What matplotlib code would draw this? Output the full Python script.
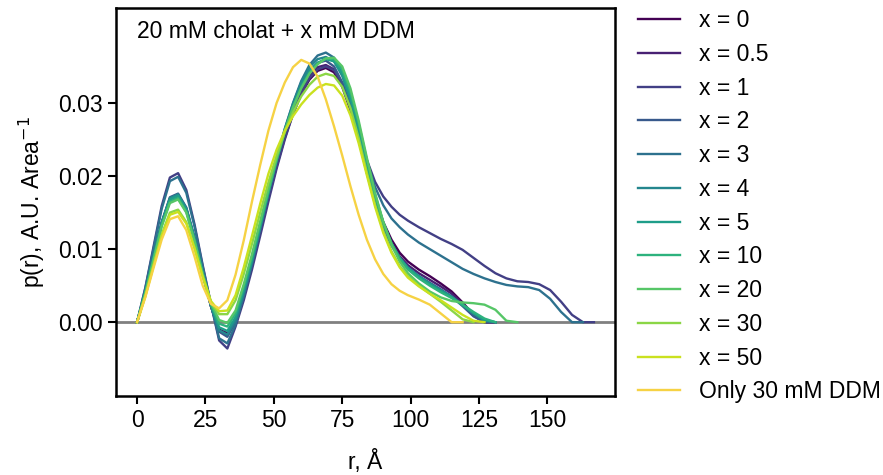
import matplotlib
matplotlib.use("Agg")
import matplotlib.pyplot as plt
import numpy as np

plt.rcParams['font.family'] = ['Liberation Sans', 'DejaVu Sans']

r = [0, 3, 6, 9, 12, 15, 18, 21, 24, 27, 30, 33, 36, 39, 42, 45, 48, 51, 54, 57,
     60, 63, 66, 69, 72, 75, 78, 81, 84, 87, 90, 93, 96, 99, 103, 107, 111, 115,
     119, 123, 127, 131, 135, 139, 143, 147, 151, 155, 159, 163, 167]

labels = ["x = 0", "x = 0.5", "x = 1", "x = 2", "x = 3", "x = 4", "x = 5",
          "x = 10", "x = 20", "x = 30", "x = 50", "Only 30 mM DDM"]

p_x0 = [0, 0.0040, 0.0088, 0.0135, 0.0168, 0.0173, 0.0154, 0.0114, 0.0066, 0.0022,
        -0.0010, -0.0015, 0.0004, 0.0040, 0.0080, 0.0125, 0.0170, 0.0213, 0.0252, 0.0285,
        0.0312, 0.0332, 0.0344, 0.0348, 0.0342, 0.0322, 0.0290, 0.0250, 0.0207, 0.0168,
        0.0137, 0.0113, 0.0095, 0.0083, 0.0072, 0.0063, 0.0053, 0.0042, 0.0027, 0.0010,
        0.0, 0.0]
p_x05 = [0, 0.0040, 0.0088, 0.0136, 0.0169, 0.0174, 0.0155, 0.0114, 0.0067, 0.0022,
         -0.0012, -0.0018, 0.0002, 0.0038, 0.0079, 0.0125, 0.0171, 0.0215, 0.0255, 0.0289,
         0.0317, 0.0337, 0.0349, 0.0352, 0.0346, 0.0326, 0.0293, 0.0252, 0.0207, 0.0166,
         0.0133, 0.0108, 0.0090, 0.0078, 0.0067, 0.0058, 0.0049, 0.0039, 0.0025, 0.0009,
         0.0, 0.0]
p_x1 = [0, 0.0047, 0.0103, 0.0159, 0.0198, 0.0204, 0.0181, 0.0134, 0.0078, 0.0025,
        -0.0025, -0.0036, -0.0006, 0.0030, 0.0072, 0.0118, 0.0165, 0.0210, 0.0250, 0.0285,
        0.0313, 0.0334, 0.0346, 0.0350, 0.0345, 0.0327, 0.0297, 0.0260, 0.0222, 0.0192,
        0.0172, 0.0158, 0.0147, 0.0139, 0.0130, 0.0122, 0.0114, 0.0107, 0.0099, 0.0088,
        0.0077, 0.0067, 0.0060, 0.0056, 0.0055, 0.0052, 0.0044, 0.0028, 0.0010, 0.0, 0.0]
p_x2 = [0, 0.0041, 0.0089, 0.0137, 0.0171, 0.0176, 0.0157, 0.0116, 0.0068, 0.0022,
        -0.0013, -0.0020, 0.0001, 0.0038, 0.0080, 0.0127, 0.0175, 0.0220, 0.0261, 0.0296,
        0.0324, 0.0344, 0.0355, 0.0358, 0.0350, 0.0328, 0.0293, 0.0250, 0.0204, 0.0163,
        0.0130, 0.0105, 0.0087, 0.0074, 0.0063, 0.0054, 0.0045, 0.0035, 0.0022, 0.0008,
        0.0, 0.0]
p_x3 = [0, 0.0046, 0.0100, 0.0155, 0.0193, 0.0199, 0.0177, 0.0131, 0.0076, 0.0025,
        -0.0022, -0.0029, -0.0003, 0.0036, 0.0080, 0.0128, 0.0177, 0.0223, 0.0265, 0.0300,
        0.0330, 0.0352, 0.0365, 0.0369, 0.0362, 0.0340, 0.0305, 0.0262, 0.0220, 0.0185,
        0.0160, 0.0142, 0.0130, 0.0120, 0.0109, 0.0100, 0.0091, 0.0082, 0.0073, 0.0066,
        0.0060, 0.0055, 0.0051, 0.0049, 0.0048, 0.0044, 0.0032, 0.0014, 0.0, 0.0]
p_x4 = [0, 0.0041, 0.0089, 0.0136, 0.0170, 0.0175, 0.0156, 0.0115, 0.0067, 0.0022,
        -0.0011, -0.0017, 0.0003, 0.0041, 0.0083, 0.0130, 0.0178, 0.0223, 0.0264, 0.0299,
        0.0328, 0.0349, 0.0360, 0.0363, 0.0357, 0.0337, 0.0303, 0.0259, 0.0211, 0.0168,
        0.0133, 0.0107, 0.0088, 0.0075, 0.0063, 0.0053, 0.0044, 0.0035, 0.0024, 0.0012,
        0.0002, 0.0]
p_x5 = [0, 0.0040, 0.0088, 0.0135, 0.0168, 0.0173, 0.0154, 0.0114, 0.0067, 0.0024,
        -0.0007, -0.0012, 0.0007, 0.0044, 0.0085, 0.0131, 0.0177, 0.0221, 0.0261, 0.0295,
        0.0323, 0.0343, 0.0355, 0.0360, 0.0357, 0.0340, 0.0308, 0.0265, 0.0217, 0.0172,
        0.0136, 0.0108, 0.0088, 0.0074, 0.0062, 0.0052, 0.0043, 0.0034, 0.0023, 0.0012,
        0.0003, 0.0]
p_x10 = [0, 0.0040, 0.0086, 0.0132, 0.0165, 0.0170, 0.0151, 0.0112, 0.0066, 0.0025,
         -0.0002, -0.0006, 0.0012, 0.0048, 0.0089, 0.0134, 0.0179, 0.0222, 0.0261, 0.0294,
         0.0321, 0.0341, 0.0354, 0.0361, 0.0360, 0.0346, 0.0315, 0.0272, 0.0222, 0.0175,
         0.0137, 0.0108, 0.0087, 0.0072, 0.0060, 0.0050, 0.0041, 0.0033, 0.0024, 0.0014,
         0.0005, 0.0]
p_x20 = [0, 0.0039, 0.0085, 0.0131, 0.0163, 0.0168, 0.0150, 0.0111, 0.0066, 0.0027,
         0.0003, -0.0001, 0.0016, 0.0052, 0.0093, 0.0138, 0.0182, 0.0224, 0.0262, 0.0294,
         0.0320, 0.0340, 0.0353, 0.0361, 0.0362, 0.0350, 0.0320, 0.0276, 0.0225, 0.0177,
         0.0137, 0.0106, 0.0083, 0.0067, 0.0053, 0.0042, 0.0034, 0.0029, 0.0027, 0.0026,
         0.0024, 0.0017, 0.0002, 0.0]
p_x30 = [0, 0.0036, 0.0078, 0.0120, 0.0150, 0.0154, 0.0137, 0.0102, 0.0062, 0.0027,
         0.0011, 0.0011, 0.0030, 0.0066, 0.0107, 0.0150, 0.0191, 0.0228, 0.0260, 0.0287,
         0.0309, 0.0325, 0.0336, 0.0340, 0.0337, 0.0322, 0.0293, 0.0252, 0.0205, 0.0161,
         0.0125, 0.0097, 0.0077, 0.0063, 0.0050, 0.0039, 0.0028, 0.0016, 0.0004, 0.0]
p_x50 = [0, 0.0035, 0.0077, 0.0118, 0.0147, 0.0151, 0.0135, 0.0101, 0.0062, 0.0029,
         0.0015, 0.0016, 0.0037, 0.0075, 0.0118, 0.0162, 0.0203, 0.0236, 0.0262, 0.0282,
         0.0298, 0.0311, 0.0321, 0.0326, 0.0324, 0.0310, 0.0283, 0.0245, 0.0201, 0.0158,
         0.0122, 0.0095, 0.0075, 0.0061, 0.0049, 0.0039, 0.0030, 0.0020, 0.0010, 0.0002,
         0.0]
p_ddm = [0, 0.0034, 0.0074, 0.0113, 0.0141, 0.0145, 0.0126, 0.0090, 0.0050, 0.0025,
         0.0019, 0.0030, 0.0065, 0.0112, 0.0165, 0.0215, 0.0262, 0.0300, 0.0328, 0.0349,
         0.0359, 0.0354, 0.0336, 0.0305, 0.0268, 0.0228, 0.0186, 0.0147, 0.0113, 0.0086,
         0.0066, 0.0052, 0.0043, 0.0037, 0.0031, 0.0024, 0.0012, 0.0, 0.0]

series = [p_x0, p_x05, p_x1, p_x2, p_x3, p_x4, p_x5, p_x10, p_x20, p_x30, p_x50, p_ddm]

fig = plt.figure(figsize=(8.83, 4.75), dpi=100)
ax = fig.add_axes([116/883, 1 - 396/475, (615-116)/883, (396-8)/475])

ax.axhline(0, color='#808080', lw=2.0, zorder=1)
colors = list(plt.cm.viridis(np.linspace(0, 0.92, len(series) - 1))) + ['#f6d244']
for ys, lab, c in zip(series, labels, colors):
    ax.plot(r[:len(ys)], ys, color=c, lw=1.7, label=lab, zorder=2)

FS = 16.5
ax.set_xlim(-7.7, 174.7)
ax.set_ylim(-0.0101, 0.043)
ax.set_xticks([0, 25, 50, 75, 100, 125, 150])
ax.set_yticks([0.0, 0.01, 0.02, 0.03])
ax.set_yticklabels(["0.00", "0.01", "0.02", "0.03"])
ax.tick_params(labelsize=FS, width=1.5, length=6)
for s in ax.spines.values():
    s.set_linewidth(1.8)
ax.set_xlabel("r, Å", fontsize=FS, labelpad=13)
ax.set_ylabel("p(r), A.U. Area$^{-1}$", fontsize=FS, labelpad=8)
ax.text(0.042, 0.94, "20 mM cholat + x mM DDM", transform=ax.transAxes,
        fontsize=FS, va='center', ha='left')

fig.legend(loc='upper left', bbox_to_anchor=(638/883, 1 - 9/475), frameon=False,
           fontsize=FS, handlelength=1.85, handletextpad=0.8, labelspacing=0.47,
           borderpad=0, borderaxespad=0)

fig.savefig("out.png", dpi=100)
